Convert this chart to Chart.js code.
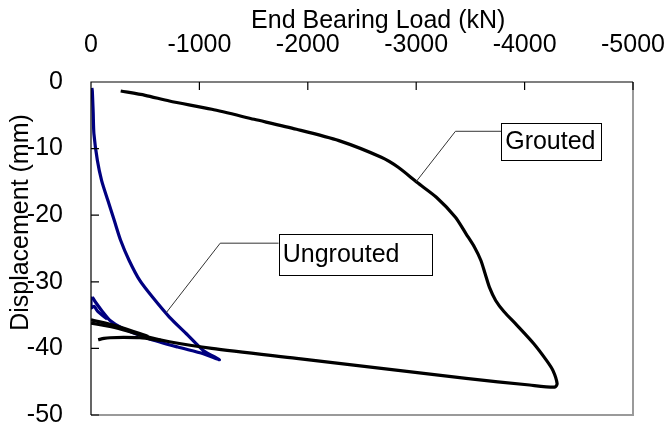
<!DOCTYPE html>
<html>
<head>
<meta charset="utf-8">
<script src="https://cdn.jsdelivr.net/npm/chart.js@4.4.0/dist/chart.umd.min.js"></script>
<style>
html, body { margin: 0; padding: 0; background: #fff; }
#wrap { width: 665px; height: 428px; }
</style>
</head>
<body>
<div id="wrap"><canvas id="bearingChart"></canvas></div>
<script>
// tick values
const loadTicks = [0, -1000, -2000, -3000, -4000, -5000];
const dispTicks = [0, -10, -20, -30, -40, -50];

// Grouted pile: end bearing load (kN) vs displacement (mm)
const groutedLoad = [-274, -500, -723, -1114, -1505, -1896, -2287, -2678, -2834, -3010, -3186, -3362, -3460,
  -3538, -3597, -3636, -3675, -3733, -3811, -3928, -4085, -4202, -4261, -4300, -4280,
  -4046, -3460, -2678, -1896, -1114, -723, -528, -254, 0];
const groutedDisp = [-1.35, -2.0, -2.85, -4.1, -5.6, -7.1, -8.8, -11.3, -12.8, -15.1, -17.3, -20.3, -22.8,
  -24.8, -26.8, -28.8, -30.8, -32.8, -34.5, -36.5, -39.3, -41.8, -43.3, -45.3, -45.8,
  -45.5, -44.5, -43.0, -41.5, -40.0, -39.0, -38.3, -37.0, -36.2];
// second unloading trace near zero load
const groutedBandLoad = [0, -250, -528];
const groutedBandDisp = [-35.7, -36.7, -38.2];
// reload hook
const groutedHookLoad = [-66, -120, -176, -300, -450, -645];
const groutedHookDisp = [-38.7, -38.5, -38.4, -38.35, -38.4, -38.8];

// Ungrouted pile
const ungroutedLoad = [-8, -12, -20, -27, -59, -98, -156, -215, -274, -352, -450, -567, -723, -880, -1036, -1185,
  -1036, -801, -528, -293, -176, -98, -39, -12];
const ungroutedDisp = [-0.9, -1.35, -4.5, -7.8, -11.8, -14.8, -17.8, -20.8, -23.8, -26.8, -29.8, -32.3, -35.3, -37.8, -40.3, -41.7,
  -40.8, -39.8, -38.5, -37.0, -35.8, -34.3, -33.0, -32.3];
const ungroutedBlobLoad = [0, 0, -30, -60, -150];
const ungroutedBlobDisp = [-32.2, -33.9, -33.7, -34.4, -35.6];

const zip = (xs, ys) => xs.map((x, i) => ({ x: x, y: ys[i] }));

const lineSet = (data, color) => ({
  data: data,
  showLine: true,
  borderColor: color,
  borderWidth: 3.2,
  pointRadius: 0,
  tension: 0.25,
  fill: false
});

const FONT = '"Liberation Sans", Arial, sans-serif';

// callouts, in data coordinates
const callouts = [
  { text: 'Grouted', leader: [[-2998, -15.0], [-3362, -7.4], [-3784, -7.4]], box: [-3784, -4703, -6.1, -11.7] },
  { text: 'Ungrouted', leader: [[-696, -34.6], [-1192, -24.2], [-1732, -24.2]], box: [-1732, -3139, -22.8, -28.9] }
];

const framePlugin = {
  id: 'framePlugin',
  afterDatasetsDraw(chart) {
    const ctx = chart.ctx;
    const a = chart.chartArea;
    const xs = chart.scales.x, ys = chart.scales.y;
    ctx.save();

    // right and bottom border (grey)
    ctx.strokeStyle = '#9a9a9a';
    ctx.lineWidth = 2;
    ctx.beginPath();
    ctx.moveTo(a.right, a.top);
    ctx.lineTo(a.right, a.bottom);
    ctx.lineTo(a.left, a.bottom);
    ctx.stroke();

    // axes (black) with inward ticks
    ctx.strokeStyle = '#000';
    ctx.lineWidth = 1.2;
    ctx.beginPath();
    ctx.moveTo(a.left, a.bottom);
    ctx.lineTo(a.left, a.top);
    ctx.lineTo(a.right, a.top);
    xs.ticks.forEach(t => {
      const px = xs.getPixelForValue(t.value);
      ctx.moveTo(px, a.top);
      ctx.lineTo(px, a.top + 8);
    });
    ys.ticks.forEach(t => {
      const py = ys.getPixelForValue(t.value);
      ctx.moveTo(a.left, py);
      ctx.lineTo(a.left + 8, py);
    });
    ctx.stroke();

    // callouts
    ctx.font = '25px ' + FONT;
    ctx.textBaseline = 'middle';
    ctx.textAlign = 'left';
    callouts.forEach(c => {
      ctx.strokeStyle = '#333';
      ctx.lineWidth = 1;
      ctx.beginPath();
      c.leader.forEach((p, i) => {
        const px = xs.getPixelForValue(p[0]), py = ys.getPixelForValue(p[1]);
        if (i === 0) ctx.moveTo(px, py); else ctx.lineTo(px, py);
      });
      ctx.stroke();
      const x0 = xs.getPixelForValue(c.box[0]), x1 = xs.getPixelForValue(c.box[1]);
      const y0 = ys.getPixelForValue(c.box[2]), y1 = ys.getPixelForValue(c.box[3]);
      ctx.fillStyle = '#fff';
      ctx.fillRect(x0, y0, x1 - x0, y1 - y0);
      ctx.strokeStyle = '#000';
      ctx.strokeRect(Math.round(x0) + 0.5, Math.round(y0) + 0.5, Math.round(x1 - x0), Math.round(y1 - y0));
      ctx.fillStyle = '#000';
      ctx.fillText(c.text, x0 + 4, (y0 + y1) / 2 + 1);
    });
    ctx.restore();
  },
  afterDraw(chart) {
    const ctx = chart.ctx;
    const a = chart.chartArea;
    ctx.save();
    ctx.fillStyle = '#000';
    ctx.font = '25px ' + FONT;
    ctx.textAlign = 'center';
    ctx.textBaseline = 'alphabetic';
    ctx.fillText('End Bearing Load (kN)', a.left + (a.right - a.left) * 0.53, 28);
    ctx.translate(28, (a.top + a.bottom) / 2 - 26);
    ctx.rotate(-Math.PI / 2);
    ctx.fillText('Displacement (mm)', 0, 0);
    ctx.restore();
  }
};

new Chart(document.getElementById('bearingChart'), {
  type: 'scatter',
  data: {
    datasets: [
      lineSet(zip(groutedLoad, groutedDisp), '#000'),
      lineSet(zip(groutedBandLoad, groutedBandDisp), '#000'),
      lineSet(zip(groutedHookLoad, groutedHookDisp), '#000'),
      lineSet(zip(ungroutedLoad, ungroutedDisp), '#000080'),
      lineSet(zip(ungroutedBlobLoad, ungroutedBlobDisp), '#000080')
    ]
  },
  options: {
    responsive: true,
    maintainAspectRatio: false,
    animation: false,
    devicePixelRatio: 1,
    layout: { padding: { top: 0, left: 0, right: 32, bottom: 13 } },
    plugins: { legend: { display: false }, tooltip: { enabled: false } },
    scales: {
      x: {
        type: 'linear',
        position: 'top',
        min: -5000,
        max: 0,
        reverse: true,
        afterBuildTicks: s => { s.ticks = loadTicks.map(v => ({ value: v })); },
        afterFit: s => { s.height = 82; s.paddingLeft = 0; s.paddingRight = 0; },
        grid: { display: false },
        border: { display: false },
        ticks: {
          autoSkip: false,
          maxRotation: 0,
          padding: 14,
          color: '#000',
          font: { family: FONT, size: 25 },
          callback: v => String(v)
        }
      },
      y: {
        type: 'linear',
        min: -50,
        max: 0,
        afterBuildTicks: s => { s.ticks = dispTicks.map(v => ({ value: v })); },
        afterFit: s => { s.width = 91; s.paddingTop = 0; s.paddingBottom = 0; },
        grid: { display: false },
        border: { display: false },
        ticks: {
          padding: 20,
          color: '#000',
          font: { family: FONT, size: 25 },
          callback: v => String(v)
        }
      }
    }
  },
  plugins: [framePlugin]
});
</script>
</body>
</html>
